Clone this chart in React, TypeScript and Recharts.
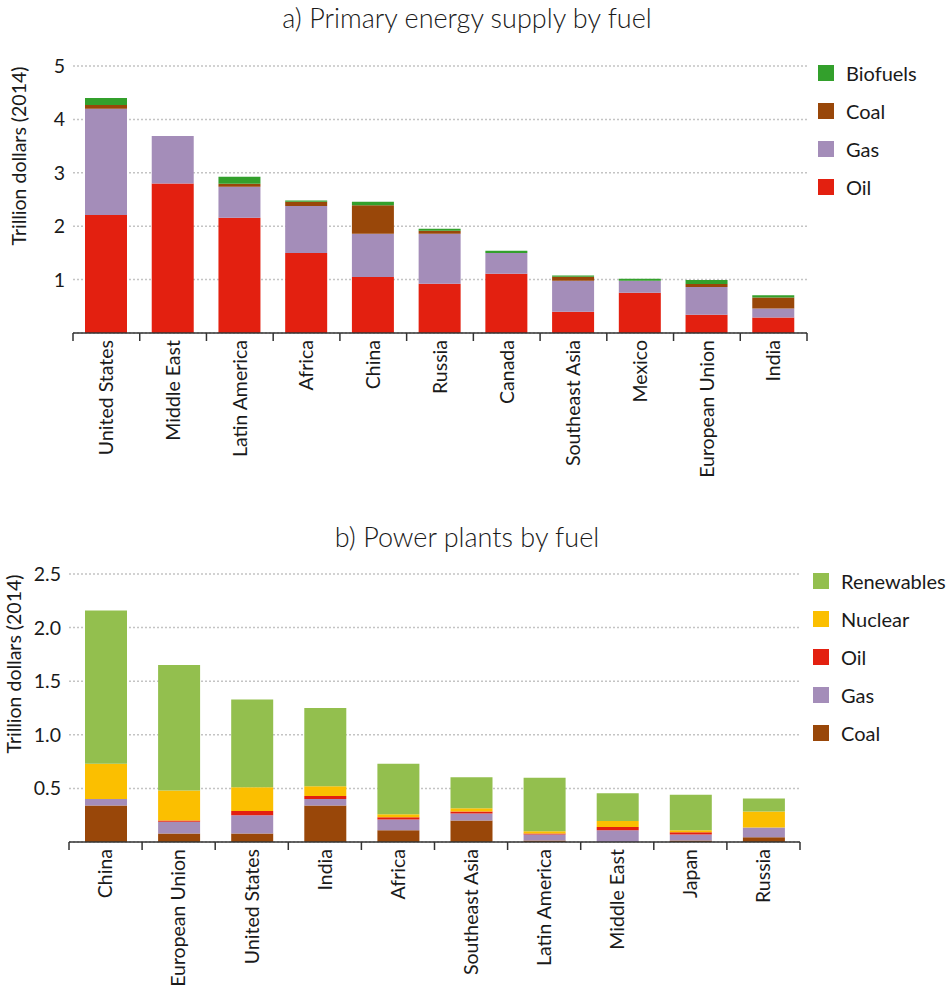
import { BarChart, Bar, XAxis, YAxis, CartesianGrid } from "recharts";

// a) Primary energy supply by fuel, trillion dollars (2014)
const SUPPLY_REGIONS = [
  "United States",
  "Middle East",
  "Latin America",
  "Africa",
  "China",
  "Russia",
  "Canada",
  "Southeast Asia",
  "Mexico",
  "European Union",
  "India",
];
const SUPPLY_OIL = [2.21, 2.8, 2.16, 1.5, 1.05, 0.92, 1.11, 0.4, 0.755, 0.34, 0.29];
const SUPPLY_GAS = [1.99, 0.89, 0.58, 0.88, 0.81, 0.94, 0.39, 0.58, 0.225, 0.52, 0.17];
const SUPPLY_COAL = [0.07, 0, 0.055, 0.08, 0.53, 0.055, 0, 0.075, 0, 0.056, 0.205];
const SUPPLY_BIOFUELS = [0.13, 0, 0.13, 0.02, 0.07, 0.035, 0.04, 0.02, 0.037, 0.075, 0.04];
const SUPPLY_TICKS = [1, 2, 3, 4, 5];

// b) Power plants by fuel, trillion dollars (2014)
const POWER_REGIONS = [
  "China",
  "European Union",
  "United States",
  "India",
  "Africa",
  "Southeast Asia",
  "Latin America",
  "Middle East",
  "Japan",
  "Russia",
];
const POWER_COAL = [0.34, 0.08, 0.08, 0.34, 0.11, 0.2, 0.015, 0, 0.015, 0.045];
const POWER_GAS = [0.06, 0.11, 0.17, 0.06, 0.1, 0.065, 0.055, 0.11, 0.055, 0.09];
const POWER_OIL = [0, 0.01, 0.04, 0.03, 0.02, 0.02, 0.01, 0.03, 0.02, 0];
const POWER_NUCLEAR = [0.33, 0.28, 0.22, 0.09, 0.03, 0.03, 0.02, 0.055, 0.02, 0.15];
const POWER_RENEWABLES = [1.43, 1.17, 0.82, 0.73, 0.47, 0.29, 0.5, 0.26, 0.33, 0.12];
const POWER_TICKS = [0.5, 1, 1.5, 2, 2.5];

const C_OIL = "#e32010";
const C_GAS = "#a48db9";
const C_COAL = "#994709";
const C_BIOFUELS = "#33a02c";
const C_NUCLEAR = "#fbbf00";
const C_RENEWABLES = "#93bf4e";

// stacking order, bottom to top
const SUPPLY_SERIES = [
  { key: "Oil", values: SUPPLY_OIL, color: C_OIL },
  { key: "Gas", values: SUPPLY_GAS, color: C_GAS },
  { key: "Coal", values: SUPPLY_COAL, color: C_COAL },
  { key: "Biofuels", values: SUPPLY_BIOFUELS, color: C_BIOFUELS },
];
const POWER_SERIES = [
  { key: "Coal", values: POWER_COAL, color: C_COAL },
  { key: "Gas", values: POWER_GAS, color: C_GAS },
  { key: "Oil", values: POWER_OIL, color: C_OIL },
  { key: "Nuclear", values: POWER_NUCLEAR, color: C_NUCLEAR },
  { key: "Renewables", values: POWER_RENEWABLES, color: C_RENEWABLES },
];

type Series = { key: string; values: number[]; color: string };

const toRows = (regions: string[], series: Series[]) =>
  regions.map((name, i) => {
    const row: Record<string, string | number> = { name };
    series.forEach((s) => (row[s.key] = s.values[i]));
    return row;
  });

const FONT = "Lato, 'Open Sans', sans-serif";
const TEXT = "#1a1a1a";
const W = 947;

// category tick: boundary tick marks plus a vertical label
function makeTick(step: number, count: number) {
  return function BoundaryTick(props: any) {
    const { x, y, payload, index } = props;
    const tx = x;
    const ty = y + 7;
    return (
      <g>
        <line x1={x - step / 2} y1={y} x2={x - step / 2} y2={y + 8} stroke="#333" strokeWidth={1.5} />
        {index === count - 1 && (
          <line x1={x + step / 2} y1={y} x2={x + step / 2} y2={y + 8} stroke="#333" strokeWidth={1.5} />
        )}
        <text
          x={tx}
          y={ty}
          transform={`rotate(-90 ${tx} ${ty})`}
          textAnchor="end"
          dy="0.35em"
          fontFamily={FONT}
          fontSize={19.5}
          fill={TEXT}
        >
          {payload.value}
        </text>
      </g>
    );
  };
}

function axisTitle(x: number, y: number) {
  return () => (
    <text
      x={x}
      y={y}
      transform={`rotate(-90 ${x} ${y})`}
      textAnchor="middle"
      dy="0.35em"
      fontFamily={FONT}
      fontSize={19.5}
      fill={TEXT}
    >
      Trillion dollars (2014)
    </text>
  );
}

function LegendBox({ series, left, top }: { series: Series[]; left: number; top: number }) {
  const items = [...series].reverse();
  return (
    <div style={{ position: "absolute", left, top }}>
      {items.map((s, i) => (
        <div
          key={s.key}
          style={{ position: "absolute", left: 0, top: i * 37.9, height: 16, display: "flex", alignItems: "center", whiteSpace: "nowrap" }}
        >
          <div style={{ width: 16, height: 16, background: s.color }} />
          <span style={{ marginLeft: 12, fontFamily: FONT, fontSize: 20, color: TEXT }}>{s.key}</span>
        </div>
      ))}
    </div>
  );
}

const titleStyle = (top: number): React.CSSProperties => ({
  position: "absolute",
  left: 0,
  width: 934,
  top,
  textAlign: "center",
  fontFamily: "Lato, sans-serif",
  fontWeight: 300,
  fontSize: 27,
  color: TEXT,
});

export default function App() {
  const supplyRows = toRows(SUPPLY_REGIONS, SUPPLY_SERIES);
  const powerRows = toRows(POWER_REGIONS, POWER_SERIES);

  const supplyStep = (W - 73 - 140) / SUPPLY_REGIONS.length;
  const powerStep = (W - 69 - 147) / POWER_REGIONS.length;

  return (
    <div style={{ position: "relative", width: W, height: 991, background: "#fff", overflow: "hidden" }}>
      <style>{`body{margin:0}`}</style>

      <div style={titleStyle(1)}>a) Primary energy supply by fuel</div>
      <div style={{ position: "absolute", left: 0, top: 0 }}>
        <BarChart
          width={W}
          height={480}
          data={supplyRows}
          margin={{ top: 66, right: 140, bottom: 0, left: 0 }}
          barSize={42}
        >
          <CartesianGrid vertical={false} stroke="#c4c4c4" strokeDasharray="2 2" strokeWidth={1.5} />
          <YAxis
            width={73}
            domain={[0, 5]}
            ticks={SUPPLY_TICKS}
            axisLine={false}
            tickLine={false}
            tick={{ fontFamily: FONT, fontSize: 19.5, fill: TEXT }}
            label={axisTitle(19, 156)}
          />
          <XAxis
            dataKey="name"
            height={147}
            interval={0}
            tickSize={0}
            tickMargin={0}
            axisLine={{ stroke: "#333", strokeWidth: 1.5 }}
            tick={makeTick(supplyStep, SUPPLY_REGIONS.length)}
          />
          {SUPPLY_SERIES.map((s) => (
            <Bar key={s.key} dataKey={s.key} stackId="a" fill={s.color} isAnimationActive={false} />
          ))}
        </BarChart>
      </div>
      <LegendBox series={SUPPLY_SERIES} left={818} top={65} />

      <div style={titleStyle(520)}>b) Power plants by fuel</div>
      <div style={{ position: "absolute", left: 0, top: 500 }}>
        <BarChart
          width={W}
          height={491}
          data={powerRows}
          margin={{ top: 74, right: 147, bottom: 0, left: 0 }}
          barSize={42}
        >
          <CartesianGrid vertical={false} stroke="#c4c4c4" strokeDasharray="2 2" strokeWidth={1.5} />
          <YAxis
            width={69}
            domain={[0, 2.5]}
            ticks={POWER_TICKS}
            axisLine={false}
            tickLine={false}
            tickFormatter={(v: number) => v.toFixed(1)}
            tick={{ fontFamily: FONT, fontSize: 19.5, fill: TEXT }}
            label={axisTitle(14, 164)}
          />
          <XAxis
            dataKey="name"
            height={149}
            interval={0}
            tickSize={0}
            tickMargin={0}
            axisLine={{ stroke: "#333", strokeWidth: 1.5 }}
            tick={makeTick(powerStep, POWER_REGIONS.length)}
          />
          {POWER_SERIES.map((s) => (
            <Bar key={s.key} dataKey={s.key} stackId="b" fill={s.color} isAnimationActive={false} />
          ))}
        </BarChart>
      </div>
      <LegendBox series={POWER_SERIES} left={813} top={573} />
    </div>
  );
}
